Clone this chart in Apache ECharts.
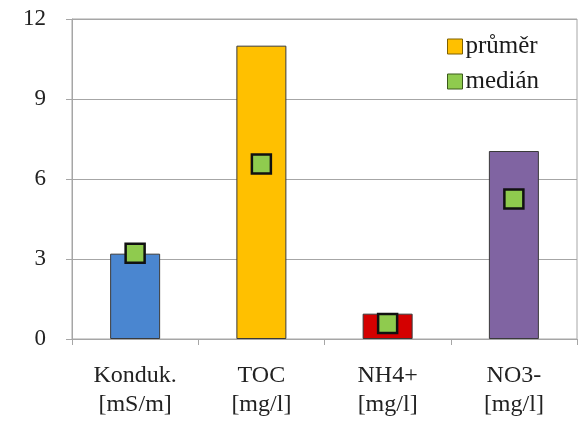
<!DOCTYPE html>
<html><head><meta charset="utf-8">
<script src="https://cdn.jsdelivr.net/npm/echarts@6/dist/echarts.min.js"></script>
<style>html,body{margin:0;padding:0;background:#fff}#c{width:583px;height:426px}</style>
</head><body><div id="c"></div>
<script>
const categories = ['Konduk.\n[mS/m]', 'TOC\n[mg/l]', 'NH4+\n[mg/l]', 'NO3-\n[mg/l]'];
const prumer = [3.2, 11.0, 0.95, 7.05];
const median = [3.22, 6.56, 0.58, 5.25];
const barColors = ['#4A86D0', '#FFC000', '#D40000', '#8064A2'];
const yTicks = [0, 3, 6, 9, 12];

const chart = echarts.init(document.getElementById('c'), null, {renderer: 'canvas'});
const font = '"Liberation Serif", "Times New Roman", serif';
chart.setOption({
  animation: false,
  backgroundColor: '#fff',
  textStyle: {fontFamily: font},
  grid: {left: 72, right: 6, top: 19, bottom: 87, show: true, borderColor: '#A6A6A6', borderWidth: 1},
  legend: {
    orient: 'vertical', left: 442, top: 29, itemGap: 10, itemWidth: 15, itemHeight: 15,
    textStyle: {fontFamily: font, fontSize: 25, color: '#1a1a1a', padding: [0, 0, 0, -2]},
    data: [
      {name: 'průměr', icon: 'rect', itemStyle: {color: '#FFC000', borderColor: '#7F6000', borderWidth: 1}},
      {name: 'medián', icon: 'rect', itemStyle: {color: '#8FCB4E', borderColor: '#3A5A1A', borderWidth: 1}}
    ]
  },
  xAxis: {
    type: 'category', data: categories,
    axisLine: {lineStyle: {color: '#A6A6A6'}},
    axisTick: {show: true, length: 6, lineStyle: {color: '#A6A6A6'}},
    axisLabel: {fontFamily: font, fontSize: 24, color: '#222', lineHeight: 29, margin: 22}
  },
  yAxis: {
    type: 'value', min: yTicks[0], max: yTicks[yTicks.length - 1], interval: 3,
    axisLine: {show: true, lineStyle: {color: '#A6A6A6'}},
    axisTick: {show: true, length: 6, lineStyle: {color: '#A6A6A6'}},
    splitLine: {lineStyle: {color: '#A6A6A6'}},
    axisLabel: {fontFamily: font, fontSize: 23, color: '#222', margin: 26}
  },
  series: [
    {
      name: 'průměr', type: 'bar', barWidth: 50,
      data: prumer.map((v, i) => ({value: v, itemStyle: {color: barColors[i]}})),
      itemStyle: {borderColor: '#3a3a3a', borderWidth: 1}
    },
    {
      name: 'medián', type: 'scatter', symbol: 'rect', symbolSize: 19,
      data: median, z: 5,
      itemStyle: {color: '#8FCB4E', borderColor: '#111', borderWidth: 2.5, opacity: 1}
    }
  ]
});
</script></body></html>
